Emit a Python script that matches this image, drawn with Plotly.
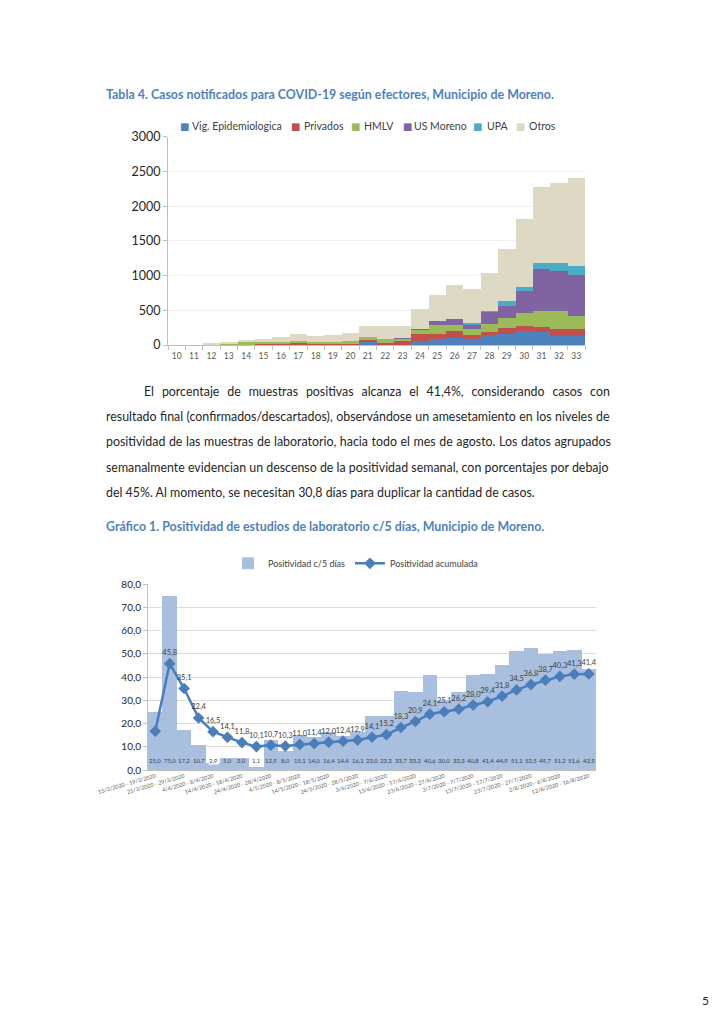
import plotly.graph_objects as go

# ---------------- Data: Tabla 4 ----------------
weeks = ["10", "11", "12", "13", "14", "15", "16", "17", "18", "19", "20", "21",
         "22", "23", "24", "25", "26", "27", "28", "29", "30", "31", "32", "33"]
vig_epi =   [0, 0, 0, 0, 0, 0, 0, 0, 0, 0, 0, 55, 5, 10, 60, 85, 110, 95, 150, 170, 200, 185, 140, 140]
privados =  [0, 0, 0, 0, 5, 20, 25, 35, 25, 25, 25, 15, 25, 50, 100, 85, 90, 50, 40, 75, 80, 80, 90, 90]
hmlv =      [0, 0, 10, 25, 55, 25, 25, 27, 23, 25, 30, 50, 65, 45, 70, 120, 90, 85, 115, 150, 190, 235, 260, 195]
us_moreno = [0, 0, 0, 0, 0, 0, 0, 0, 0, 0, 0, 0, 0, 5, 5, 65, 90, 65, 175, 170, 305, 595, 575, 590]
upa =       [0, 0, 0, 0, 0, 0, 0, 0, 0, 0, 0, 0, 0, 0, 0, 0, 5, 20, 10, 80, 65, 95, 115, 125]
otros =     [2, 3, 10, 10, 20, 40, 70, 103, 87, 95, 120, 155, 180, 170, 295, 375, 485, 490, 545, 745, 980, 1090, 1160, 1275]

series1_names = ["Vig. Epidemiologica", "Privados", "HMLV", "US Moreno", "UPA", "Otros"]
series1_values = [vig_epi, privados, hmlv, us_moreno, upa, otros]
series1_colors = ["#4F81BD", "#C0504D", "#9BBB59", "#8064A2", "#4BACC6", "#DDD9C4"]

# ---------------- Data: Gráfico 1 ----------------
periodos = [
    "15/3/2020 - 19/3/2020", "20/3/2020 - 24/3/2020", "25/3/2020 - 29/3/2020",
    "30/3/2020 - 3/4/2020", "4/4/2020 - 8/4/2020", "9/4/2020 - 13/4/2020",
    "14/4/2020 - 18/4/2020", "19/4/2020 - 23/4/2020", "24/4/2020 - 28/4/2020",
    "29/4/2020 - 3/5/2020", "4/5/2020 - 8/5/2020", "9/5/2020 - 13/5/2020",
    "14/5/2020 - 18/5/2020", "19/5/2020 - 23/5/2020", "24/5/2020 - 28/5/2020",
    "29/5/2020 - 2/6/2020", "3/6/2020 - 7/6/2020", "8/6/2020 - 12/6/2020",
    "13/6/2020 - 17/6/2020", "18/6/2020 - 22/6/2020", "23/6/2020 - 27/6/2020",
    "28/6/2020 - 2/7/2020", "3/7/2020 - 7/7/2020", "8/7/2020 - 12/7/2020",
    "13/7/2020 - 17/7/2020", "18/7/2020 - 22/7/2020", "23/7/2020 - 27/7/2020",
    "28/7/2020 - 1/8/2020", "2/8/2020 - 6/8/2020", "7/8/2020 - 11/8/2020",
    "12/8/2020 - 16/8/2020"]
positividad_5d = [25.0, 75.0, 17.2, 10.7, 2.9, 5.0, 5.0, 1.1, 12.9, 8.0, 15.1, 14.0, 16.4,
                  14.4, 16.1, 23.0, 23.3, 33.7, 33.3, 40.6, 30.0, 33.3, 40.8, 41.4, 44.9,
                  51.1, 52.5, 49.7, 51.2, 51.6, 43.5]
positividad_acum = [16.7, 45.8, 35.1, 22.4, 16.5, 14.1, 11.8, 10.1, 10.7, 10.3, 11.0, 11.4,
                    12.0, 12.4, 12.9, 14.1, 15.2, 18.3, 20.9, 24.1, 25.1, 26.2, 28.0, 29.4,
                    31.8, 34.5, 36.8, 38.7, 40.3, 41.3, 41.4]
tick_periodos = periodos[::2]

# ---------------- Text ----------------
title1 = "Tabla 4. Casos notificados para COVID-19 según efectores, Municipio de Moreno."
title2 = "Gráfico 1. Positividad de estudios de laboratorio c/5 días, Municipio de Moreno."
paragraph = [
    "El porcentaje de muestras positivas alcanza el 41,4%, considerando casos con",
    "resultado final (confirmados/descartados), observándose un amesetamiento en los niveles de",
    "positividad de las muestras de laboratorio, hacia todo el mes de agosto. Los datos agrupados",
    "semanalmente evidencian un descenso de la positividad semanal, con porcentajes por debajo",
    "del 45%. Al momento, se necesitan 30,8 días para duplicar la cantidad de casos.",
]
paragraph_wordspacing = [4.7, 0.3, 0.4, 0]

# page is shown with an 8px body margin: compensate
OFF = 8
FIG_W, FIG_H = 725 - OFF, 1024 - OFF
def px(x):
    return (x - OFF) / FIG_W
def py(y):
    return 1 - (y - OFF) / FIG_H

FONT = "Lato, Roboto, sans-serif"
BLUE_T = "#4F81BD"
GRAY = "#595959"

fig = go.Figure()

# Chart 1 stacked bars
for name, vals, col in zip(series1_names, series1_values, series1_colors):
    fig.add_trace(go.Bar(x=weeks, y=vals, name=name, marker=dict(color=col, line=dict(width=0)),
                         xaxis="x", yaxis="y", showlegend=False, hoverinfo="x+y+name"))

# Chart 2 bars + line
fig.add_trace(go.Bar(x=periodos, y=positividad_5d, name="Positividad c/5 días",
                     marker=dict(color="#A8BFDF", line=dict(width=0)),
                     xaxis="x2", yaxis="y2", legend="legend"))
line_text = [""] + [f"{v:.1f}".replace(".", ",") for v in positividad_acum[1:]]
fig.add_trace(go.Scatter(x=periodos, y=positividad_acum, name="Positividad acumulada",
                         mode="lines+markers+text", text=line_text, textposition="top center",
                         textfont=dict(size=7.5, color="#404040", family=FONT),
                         line=dict(color="#4A7EBB", width=2.5),
                         marker=dict(symbol="diamond", size=9, color="#4A7EBB"),
                         xaxis="x2", yaxis="y2", legend="legend2", cliponaxis=False))

annotations = []
# Chart 1 legend (swatch + label)
legend1_swatch_x = [184.5, 295.5, 355.5, 407.5, 477.5, 520.5]
legend1_text_x = [190, 302, 362, 412, 485, 527]
for name, col, sx, tx in zip(series1_names, series1_colors, legend1_swatch_x, legend1_text_x):
    annotations.append(dict(x=px(sx), y=py(126.5), xref="paper", yref="paper", xanchor="center",
                            yanchor="middle", showarrow=False, text="■",
                            font=dict(size=10, color=col, family="DejaVu Sans")))
    annotations.append(dict(x=px(tx), y=py(126), xref="paper", yref="paper", xanchor="left",
                            yanchor="middle", showarrow=False, text=name,
                            font=dict(size=10.5, color="#404040", family=FONT)))

# bar value labels (inside base)
for cat, v in zip(periodos, positividad_5d):
    annotations.append(dict(x=cat, y=4, xref="x2", yref="y2", showarrow=False,
                            text=f"{v:.1f}".replace(".", ","),
                            font=dict(size=6, color="#404040", family=FONT),
                            bgcolor="white" if v < 4 else "rgba(0,0,0,0)", borderpad=0))

# titles
annotations.append(dict(x=px(104), y=py(95), xref="paper", yref="paper", xanchor="left",
                        yanchor="middle", showarrow=False, text=f"<b>{title1}</b>",
                        font=dict(size=12.4, color=BLUE_T, family=FONT)))
annotations.append(dict(x=px(104), y=py(526.5), xref="paper", yref="paper", xanchor="left",
                        yanchor="middle", showarrow=False, text=f"<b>{title2}</b>",
                        font=dict(size=12.4, color=BLUE_T, family=FONT)))
# paragraph
for k, line in enumerate(paragraph):
    x0 = 142 if k == 0 else 104
    ws = paragraph_wordspacing[k] if k < len(paragraph_wordspacing) else 0
    txt = f'<span style="word-spacing:{ws}px">{line}</span>' if ws else line
    annotations.append(dict(x=px(x0), y=py(391.5 + 25.2 * k), xref="paper", yref="paper",
                            xanchor="left", yanchor="middle", showarrow=False, text=txt,
                            font=dict(size=12.4, color="#262626", family=FONT)))
# page number
annotations.append(dict(x=px(705), y=py(1000), xref="paper", yref="paper", xanchor="center",
                        yanchor="middle", showarrow=False, text="5",
                        font=dict(size=12, color="#262626", family=FONT)))

leg_common = dict(yanchor="middle", xanchor="left", bgcolor="rgba(0,0,0,0)", borderwidth=0,
                  itemwidth=30, font=dict(size=9, color="#404040", family=FONT))

fig.update_layout(
    template="none",
    width=FIG_W, height=FIG_H, margin=dict(l=0, r=0, t=0, b=0, autoexpand=False),
    paper_bgcolor="white", plot_bgcolor="white",
    font=dict(family=FONT, color=GRAY),
    separators=",.",
    barmode="stack", bargap=0,
    showlegend=True,
    annotations=annotations,
    legend=dict(x=px(268 - 40), y=py(563.3), **leg_common),
    legend2=dict(x=px(390 - 40), y=py(563.3), **leg_common),
    xaxis=dict(domain=[px(168), px(585)], anchor="y", type="category", automargin=False,
               range=[-0.5, len(weeks) - 0.5],
               tickson="boundaries", ticks="outside", ticklen=4, tickcolor="#BFBFBF",
               showline=True, linecolor="#BFBFBF", linewidth=1, showgrid=False, tickangle=0,
               ticklabelstandoff=3,
               tickfont=dict(size=8.5, color=GRAY), fixedrange=True),
    yaxis=dict(domain=[py(345), py(136.7)], anchor="x", range=[0, 3000], dtick=500,
               automargin=False,
               ticks="outside", ticklen=4, tickcolor="#BFBFBF", showline=True,
               linecolor="#BFBFBF", linewidth=1, showgrid=True, gridcolor="#EFEFEF",
               tickfont=dict(size=12.5, color="#262626"), zeroline=False, fixedrange=True),
    xaxis2=dict(domain=[px(148), px(596)], anchor="y2", type="category", automargin=False,
                range=[-0.5, len(periodos) - 0.5],
                tickmode="array", tickvals=tick_periodos, ticktext=tick_periodos,
                tickangle=-16, ticks="", showline=True, linecolor="#BFBFBF",
                tickfont=dict(size=5.5, color=GRAY), showgrid=False, fixedrange=True),
    yaxis2=dict(domain=[py(770), py(584.3)], anchor="x2", range=[0, 80], dtick=10,
                automargin=False,
                tickformat=".1f", ticks="outside", ticklen=4, tickcolor="#BFBFBF",
                showline=True, linecolor="#BFBFBF", showgrid=True, gridcolor="#DDDDDD",
                tickfont=dict(size=10, color="#262626"), zeroline=False, fixedrange=True),
)

fig.write_html("out.html")
